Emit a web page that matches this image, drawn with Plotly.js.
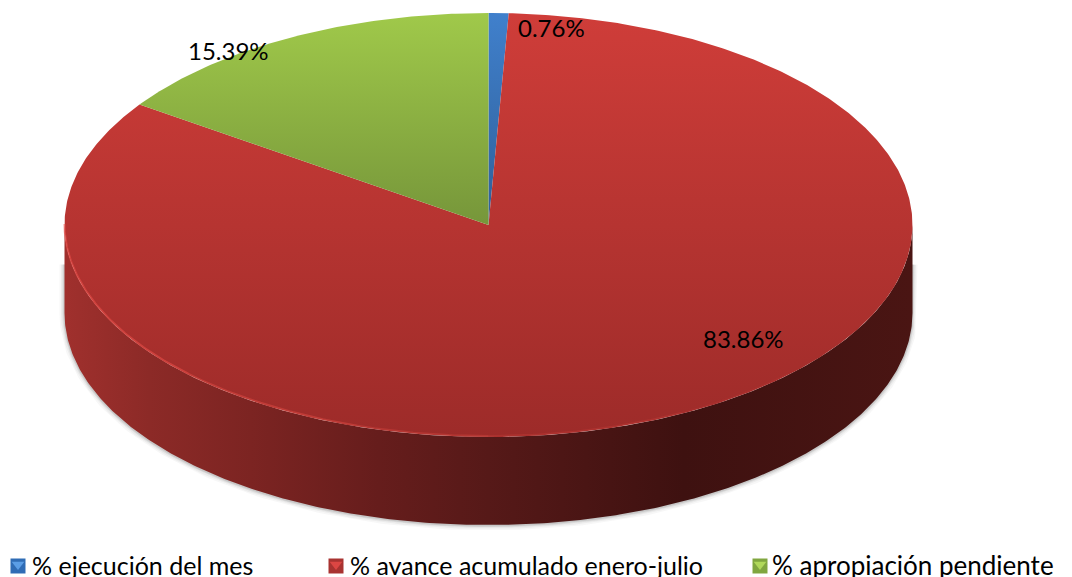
<!DOCTYPE html>
<html><head><meta charset="utf-8">
<script src="https://cdn.plot.ly/plotly-3.0.1.min.js"></script>
<style>html,body{margin:0;padding:0;background:#fff}#c{width:1072px;height:577px}</style>
</head><body><div id="c"></div>
<script>
const categories = ['% ejecución del mes','% avance acumulado enero-julio','% apropiación pendiente'];
const values = [0.76, 83.86, 15.39];
const labels = ['0.76%','83.86%','15.39%'];

const W=1072,H=577;
const cx=488.5, cy=225, rx=424, ry=212, depth=88, STEP=0.5;
const total = values.reduce((a,b)=>a+b,0);
const px=t=>cx+rx*Math.sin(t), py=t=>cy-ry*Math.cos(t);
function arc(a,b,dy){const xs=[],ys=[];const n=Math.max(2,Math.ceil(Math.abs(b-a)/(STEP*Math.PI/180)));
  for(let i=0;i<=n;i++){const t=a+(b-a)*i/n;xs.push(px(t));ys.push(py(t)+(dy||0));}return [xs,ys];}

const topScales = [
  [[0,'#4080cc'],[1,'#2f5f98']],
  [[0,'#cf3d39'],[1,'#9d2b29']],
  [[0,'#a0c94a'],[1,'#76963a']]
];
const traces=[];

// soft shadow around wall
const shadowArc=arc(Math.PI/2,3*Math.PI/2,depth+0.5);
[[10,0.045],[7,0.06],[4,0.09],[2,0.12]].forEach(([w,o])=>{
  const sx=[px(Math.PI/2)].concat(shadowArc[0],[px(3*Math.PI/2)]);
  const sy=[cy+depth*0.45].concat(shadowArc[1],[cy+depth*0.45]);
  traces.push({x:sx,y:sy,mode:'lines',line:{color:'rgba(60,60,60,'+o+')',width:w},hoverinfo:'skip',showlegend:false});
});

// wall of visible lower half
{
  const lo=arc(Math.PI/2,3*Math.PI/2,depth), up=arc(3*Math.PI/2,Math.PI/2,0);
  traces.push({x:lo[0].concat(up[0]),y:lo[1].concat(up[1]),mode:'lines',line:{width:0,color:'#5a1a18'},fill:'toself',
    fillgradient:{type:'horizontal',start:cx-rx,stop:cx+rx,colorscale:[[0,'#a0302d'],[0.1,'#8c2a27'],[0.22,'#7c2422'],[0.37,'#661d1c'],[0.5,'#561918'],[0.73,'#3e1110'],[1,'#4a1513']]},
    hoverinfo:'skip',showlegend:false});
}

// top face slices, clockwise from twelve o'clock
let acc=0;
values.forEach((v,i)=>{
  const a=2*Math.PI*acc/total, b=2*Math.PI*(acc+v)/total; acc+=v;
  const s=arc(a,b,0);
  const ys=[cy].concat(s[1],[cy]);
  traces.push({x:[cx].concat(s[0],[cx]),y:ys,mode:'lines',line:{width:0,color:topScales[i][0][1]},fill:'toself',
    fillgradient:{type:'vertical',start:Math.min(...ys),stop:Math.max(...ys),colorscale:topScales[i]},
    hoverinfo:'skip',showlegend:false});
});

// bright rim on the lit part of the edge
[[1.25,1.5,0.55],[1.1,1.25,0.42],[1,1.1,0.3],[0.85,1,0.18],[0.75,0.85,0.08]].forEach(([a,b,o])=>{
  const s=arc(a*Math.PI,b*Math.PI,-1);
  traces.push({x:s[0],y:s[1],mode:'lines',line:{color:'rgba(236,80,74,'+o+')',width:2},hoverinfo:'skip',showlegend:false});
});

// legend swatches
const swatchX=[18,336,760], swatchY=566;
const swatchCol=[['#5b9ee6','#2f6cb5'],['#dc4643','#a83331'],['#b0d85a','#80a63f']];
swatchX.forEach((x,i)=>{
  traces.push({x:[x],y:[swatchY],mode:'markers',marker:{symbol:'square',size:15,color:swatchCol[i][1],line:{width:0}},hoverinfo:'skip',showlegend:false});
  traces.push({x:[x],y:[swatchY-1.5],mode:'markers',marker:{symbol:'triangle-down',size:11,color:swatchCol[i][0],line:{width:0}},hoverinfo:'skip',showlegend:false});
});

const font={family:'Lato, Carlito, sans-serif',size:24,color:'#000'};
const legTextX=[31,349,771], legSize=[25,25,26];
const annotations=categories.map((c,i)=>({text:c,x:legTextX[i],y:565,xref:'x',yref:'y',xanchor:'left',yanchor:'middle',showarrow:false,font:Object.assign({},font,{size:legSize[i]}),borderpad:0}));
const labelPos=[[551,27],[743,338],[228,50]];
labels.forEach((l,i)=>annotations.push({text:l,x:labelPos[i][0],y:labelPos[i][1],xref:'x',yref:'y',xanchor:'center',yanchor:'middle',showarrow:false,font:font,borderpad:0}));

Plotly.newPlot('c',traces,{
  width:W,height:H,margin:{l:0,r:0,t:0,b:0},paper_bgcolor:'#fff',plot_bgcolor:'#fff',showlegend:false,
  xaxis:{range:[0,W],visible:false,fixedrange:true},
  yaxis:{range:[H,0],visible:false,fixedrange:true},
  annotations:annotations,hovermode:false
},{displayModeBar:false,staticPlot:true});
</script></body></html>
